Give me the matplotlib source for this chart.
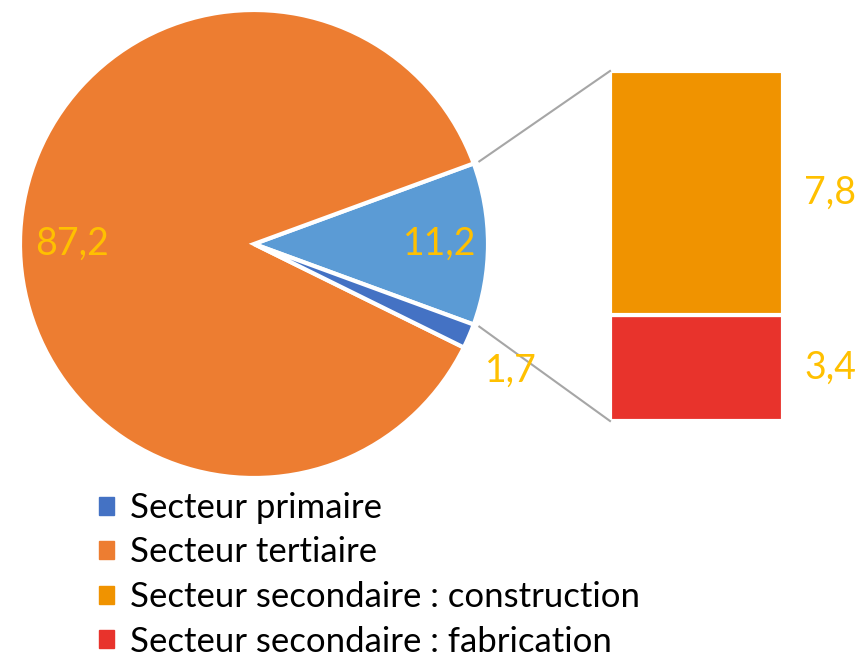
import matplotlib
matplotlib.use("Agg")
import matplotlib.pyplot as plt
from matplotlib.patches import Patch
import numpy as np

# Data
pie_labels = ["Secteur secondaire", "Secteur tertiaire", "Secteur primaire"]
pie_values = [11.2, 87.2, 1.7]
pie_texts = ["11,2", "87,2", "1,7"]
bar_labels = ["Secteur secondaire : fabrication", "Secteur secondaire : construction"]
bar_values = [3.4, 7.8]
bar_texts = ["3,4", "7,8"]
legend_labels = ["Secteur primaire", "Secteur tertiaire",
                 "Secteur secondaire : construction", "Secteur secondaire : fabrication"]

c_prim = "#4472C4"
c_tert = "#ED7D31"
c_sec = "#5B9BD5"
c_cons = "#F09300"
c_fab = "#E8332C"
c_lab = "#FFC000"

plt.rcParams['font.family'] = ['Lato', 'DejaVu Sans']

W, H = 859, 660
fig = plt.figure(figsize=(W / 100, H / 100), dpi=100)
ax = fig.add_axes([0, 0, 1, 1])

cx, cy, R = 254, H - 244, 234
start = -pie_values[0] / sum(pie_values) * 180
wedges, _ = ax.pie(pie_values, colors=[c_sec, c_tert, c_prim], startangle=start,
                   counterclock=True, center=(cx, cy), radius=R,
                   wedgeprops=dict(edgecolor='white', linewidth=3), frame=True)
ax.set_xlim(0, W)
ax.set_ylim(0, H)
ax.set_aspect('equal')
ax.axis('off')

fs_lab = 27
# pie labels
ax.text(440, H - 244, pie_texts[0], color=c_lab, fontsize=fs_lab, ha='center', va='center')
ax.text(72, H - 244, pie_texts[1], color=c_lab, fontsize=fs_lab, ha='center', va='center')
ax.text(511, H - 371, pie_texts[2], color=c_lab, fontsize=fs_lab, ha='center', va='center')

# bar of pie
bar_x = 696.5
bar_w = 173
bar_bottom = H - 421
scale = (421 - 71) / sum(bar_values)
bottoms = [bar_bottom, bar_bottom + bar_values[0] * scale]
ax.bar([bar_x, bar_x], [v * scale for v in bar_values], bottom=bottoms, width=bar_w,
       color=[c_fab, c_cons], edgecolor='white', linewidth=3)
for b, v, t in zip(bottoms, bar_values, bar_texts):
    ax.text(bar_x + bar_w / 2 + 47, b + v * scale / 2, t, color=c_lab, fontsize=fs_lab,
            ha='center', va='center')

# connector lines
ang = np.deg2rad(-start)
r2 = R + 6
x_top, y_top = cx + r2 * np.cos(ang), cy + r2 * np.sin(ang)
x_bot, y_bot = cx + r2 * np.cos(-ang), cy + r2 * np.sin(-ang)
left = bar_x - bar_w / 2
ax.plot([x_top, left], [y_top, bar_bottom + sum(bar_values) * scale], color="#A6A6A6", lw=1.5)
ax.plot([x_bot, left], [y_bot, bar_bottom], color="#A6A6A6", lw=1.5)

handles = [Patch(color=c) for c in [c_prim, c_tert, c_cons, c_fab]]
leg = ax.legend(handles, legend_labels, loc='upper left', bbox_to_anchor=(99 / W, 1 - 492 / H),
                frameon=False, fontsize=25, handlelength=0.43, handleheight=0.43,
                handletextpad=0.45, labelspacing=0.36, borderaxespad=0, borderpad=0)

fig.savefig("out.png", dpi=100)
